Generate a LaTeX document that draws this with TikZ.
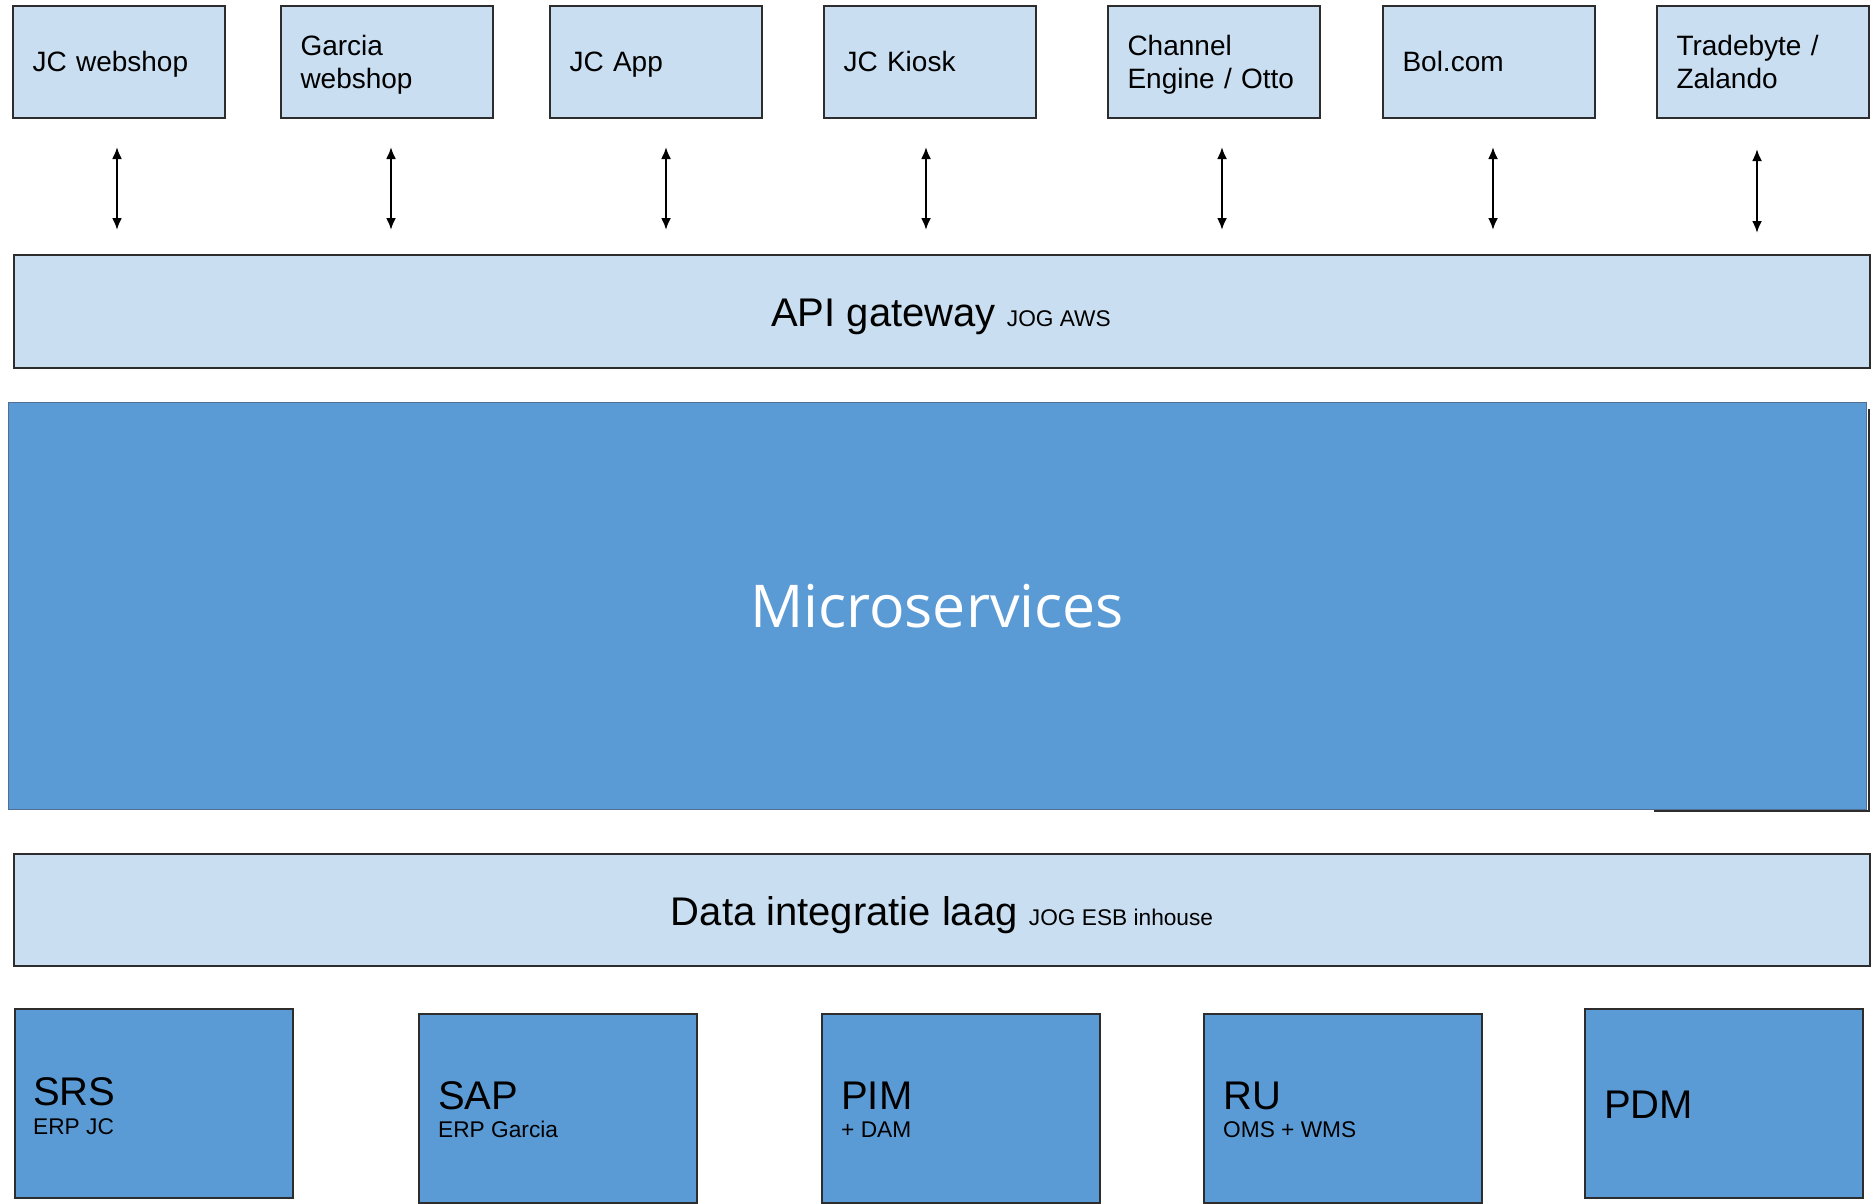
\documentclass[tikz,border=0pt]{standalone}
\usepackage{fontspec}
\setmainfont{Liberation Sans}
\newfontfamily\msfont{Open Sans}
\usetikzlibrary{arrows.meta}
\definecolor{lightb}{RGB}{201,222,240}
\definecolor{darkb}{RGB}{91,155,213}
\definecolor{bordc}{RGB}{45,45,45}
\definecolor{msbord}{RGB}{80,110,150}
\newcommand\cst{\rule[-6pt]{0pt}{32pt}}
\tikzset{
  chanbox/.style={draw=bordc, line width=2pt, fill=lightb, minimum width=212pt, minimum height=112pt,
    text width=173pt, inner xsep=19.5pt, inner ysep=0pt, align=left, anchor=north west,
    font=\fontsize{28}{33}\selectfont},
  layerbox/.style={draw=bordc, line width=2pt, fill=lightb, minimum width=1856pt, minimum height=113pt,
    anchor=north west, inner sep=0pt},
  sysbox/.style={draw=bordc, line width=2pt, fill=darkb, minimum width=278pt, minimum height=189pt,
    anchor=north west, inner sep=0pt},
  bigtxt/.style={anchor=base west, inner sep=0pt, font=\fontsize{40}{42}\selectfont},
  smalltxt/.style={anchor=base west, inner sep=0pt, font=\fontsize{22.7}{24}\selectfont},
  dbl/.style={{Latex[length=12pt,width=10pt]}-{Latex[length=12pt,width=10pt]}, line width=2.2pt, black},
}
\begin{document}
\begin{tikzpicture}[x=1pt,y=-1pt]
\useasboundingbox[fill=white] (0,0) rectangle (1871,1204);

% top channel boxes
\node[chanbox] (jcw) at (12,5) {\cst JC webshop};
\node[chanbox] (gw) at (280,5) {\cst Garcia\\\cst webshop};
\node[chanbox] (app) at (549,5) {\cst JC App};
\node[chanbox] (kiosk) at (823,5) {\cst JC Kiosk};
\node[chanbox] (ce) at (1107,5) {\cst Channel\\\cst Engine / Otto};
\node[chanbox] (bol) at (1382,5) {\cst Bol.com};
\node[chanbox] (tb) at (1656,5) {\cst Tradebyte /\\\cst Zalando};

% arrows
\foreach \n/\x/\ya/\yb in {1/117/147/230, 2/391/147/230, 3/666/147/230, 4/926/147/230, 5/1222/147/230, 6/1493/147/230, 7/1757/149/233}{
  \coordinate (at\n) at (\x,\ya);
  \coordinate (ab\n) at (\x,\yb);
  \draw[dbl] (at\n) -- (ab\n);
}

% API gateway
\node[layerbox] (api) at (13,254) {};
\node[anchor=base, inner sep=0pt] (apitxt) at (941,326)
  {{\fontsize{40}{42}\selectfont API gateway }{\fontsize{22.7}{24}\selectfont JOG AWS}};

% microservices with partial shadow line
\coordinate (sh1) at (1654,811);
\coordinate (sh2) at (1869,811);
\coordinate (sh3) at (1869,409);
\draw[bordc, line width=2.2pt] (sh1) -- (sh2) -- (sh3);
\node[draw=msbord, line width=1pt, fill=darkb, minimum width=1858pt, minimum height=407pt,
  anchor=north west, inner sep=0pt] (ms) at (8,402) {};
\node[anchor=base, inner sep=0pt, text=white, font=\msfont\fontsize{59}{62}\selectfont] (mstxt) at (937,627) {Microservices};

% data integratie laag
\node[layerbox, minimum height=112pt] (dil) at (13,853) {};
\node[anchor=base, inner sep=0pt] (diltxt) at (942,925)
  {{\fontsize{40}{42}\selectfont Data integratie laag }{\fontsize{22.7}{24}\selectfont JOG ESB inhouse}};

% systems
\node[sysbox] (srs) at (14,1008) {};
\node[sysbox] (sap) at (418,1013) {};
\node[sysbox] (pim) at (821,1013) {};
\node[sysbox] (ru) at (1203,1013) {};
\node[sysbox] (pdm) at (1584,1008) {};

\node[bigtxt] (srst) at ([xshift=19pt,yshift=-97pt]srs.north west) {SRS};
\node[smalltxt] (srss) at ([xshift=19pt,yshift=-126pt]srs.north west) {ERP JC};
\node[bigtxt] (sapt) at ([xshift=20pt,yshift=-96pt]sap.north west) {SAP};
\node[smalltxt] (saps) at ([xshift=20pt,yshift=-124pt]sap.north west) {ERP Garcia};
\node[bigtxt] (pimt) at ([xshift=20pt,yshift=-96pt]pim.north west) {PIM};
\node[smalltxt] (pims) at ([xshift=20pt,yshift=-124pt]pim.north west) {+ DAM};
\node[bigtxt] (rut) at ([xshift=20pt,yshift=-96pt]ru.north west) {RU};
\node[smalltxt] (rus) at ([xshift=20pt,yshift=-124pt]ru.north west) {OMS + WMS};
\node[bigtxt] (pdmt) at ([xshift=20pt,yshift=-110pt]pdm.north west) {PDM};
\end{tikzpicture}
\end{document}
